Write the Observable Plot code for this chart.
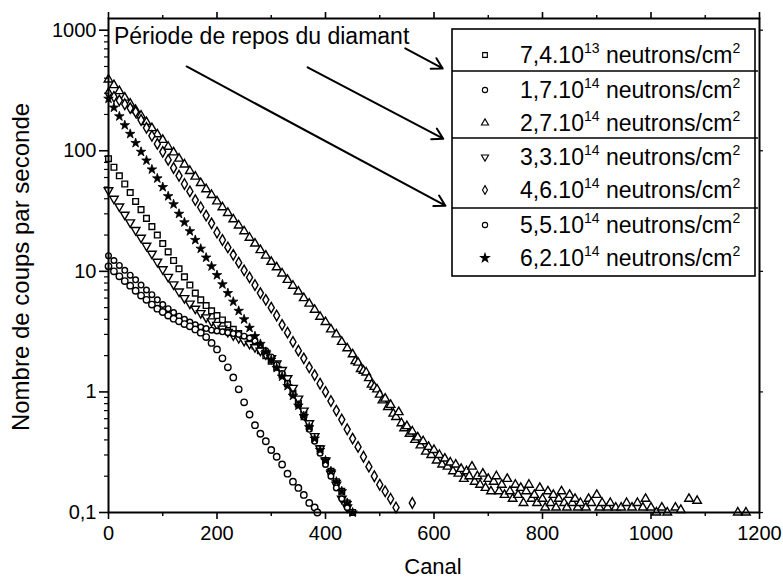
<!DOCTYPE html>
<html><head><meta charset="utf-8">
<script src="https://cdn.jsdelivr.net/npm/d3@7"></script>
<script src="https://cdn.jsdelivr.net/npm/@observablehq/plot@0.6"></script>
<style>body{margin:0;background:#fff}#chart{width:783px;height:581px}</style>
</head><body><div id="chart"></div>
<script>
// Series labels (legend order)
const seriesLabels = [
  ["7,4.10","13"],["1,7.10","14"],["2,7.10","14"],["3,3.10","14"],
  ["4,6.10","14"],["5,5.10","14"],["6,2.10","14"]
];
// [canal, coups/s]
const sq74e13 = [[0,86],[10,73],[20,62],[30,53],[40,45],[50,38],[60,32.5],[70,27.5],[80,23.5],[90,20],[100,17],[110,14.5],[120,12.3],[130,10.5],[140,9.0],[150,7.7],[160,6.6],[170,5.8],[180,5.2],[190,4.7],[200,4.3],[210,3.95],[220,3.6],[230,3.3],[240,3.05],[250,2.8],[260,2.6],[270,2.4],[280,2.2],[290,2.0],[300,1.8],[310,1.6],[320,1.38],[330,1.17],[340,0.98],[350,0.8],[360,0.65],[370,0.52],[380,0.42],[390,0.34],[400,0.27],[410,0.22],[420,0.18],[430,0.15],[440,0.12],[450,0.1]];
const ci17e14 = [[0,11],[10,10],[20,9.1],[30,8.3],[40,7.6],[50,6.9],[60,6.3],[70,5.8],[80,5.3],[90,4.9],[100,4.6],[110,4.3],[120,4.05],[130,3.85],[140,3.65],[150,3.5],[160,3.3],[170,3.1],[180,2.85],[190,2.55],[200,2.25],[210,1.9],[220,1.6],[230,1.32],[240,1.05],[250,0.82],[260,0.65],[270,0.53],[280,0.45],[290,0.39],[300,0.33],[310,0.29],[320,0.25],[330,0.21],[340,0.18],[350,0.16],[360,0.14],[370,0.12],[380,0.11],[385,0.1]];
const tr27e14 = [[0,390],[10,350],[20,312],[30,276],[40,246],[50,218],[60,196],[70,173],[80,154],[90,137],[100,123],[110,108],[120,97],[130,86],[140,77],[150,68],[160,61],[170,54],[180,48],[190,43],[200,38],[210,34],[220,30.5],[230,27],[240,24],[250,21.5],[260,19],[270,17],[280,15],[290,13.5],[300,12],[310,10.8],[320,9.6],[330,8.5],[340,7.6],[350,6.8],[360,6.0],[370,5.4],[380,4.8],[390,4.2],[400,3.8],[410,3.3],[420,3.0],[430,2.6],[440,2.3],[450,2.05],
  [455,1.8],[460,1.75],[465,1.55],[470,1.5],[475,1.45],[480,1.3],[485,1.15],[490,1.1],[495,1.05],[500,0.95],[505,0.85],[510,0.88],[515,0.75],[520,0.78],[525,0.66],[530,0.62],[535,0.68],[540,0.55],[545,0.5],[550,0.52],[555,0.45],[560,0.47],[565,0.4],[570,0.42],[575,0.36],[580,0.39],[585,0.32],[590,0.35],[595,0.3],[600,0.33],[605,0.27],[610,0.3],[615,0.25],[620,0.28],[625,0.24],[630,0.26],[635,0.22],[640,0.25],[645,0.21],[650,0.23],[655,0.19],[660,0.22],[665,0.2],[670,0.24],[675,0.18],[680,0.2],[685,0.17],[690,0.21],[695,0.16],[700,0.19],[705,0.15],[710,0.18],[715,0.2],[720,0.15],[725,0.17],[730,0.14],[735,0.19],[740,0.15],[745,0.13],[750,0.17],[755,0.14],[760,0.16],[765,0.12],[770,0.15],[775,0.17],[780,0.13],[785,0.14],[790,0.12],[795,0.16],[800,0.13],[805,0.11],[810,0.15],[815,0.12],[820,0.14],[825,0.11],[830,0.13],[835,0.15],[840,0.12],[845,0.11],[850,0.14],[855,0.12],[860,0.13],[865,0.11],[870,0.12],[880,0.11],[885,0.13],[890,0.12],[900,0.14],[905,0.11],[910,0.12],[920,0.11],[925,0.12],[935,0.11],[945,0.11],[955,0.12],[965,0.11],[975,0.12],[985,0.11],[990,0.13],[1000,0.11],[1010,0.1],[1020,0.11],[1030,0.1],[1045,0.11],[1055,0.105],[1070,0.13],[1085,0.125],[1160,0.1],[1175,0.1]];
const td33e14 = [[0,47],[10,40],[20,34.5],[30,29.5],[40,25.5],[50,22],[60,19],[70,16.3],[80,14],[90,12],[100,10.4],[110,9.0],[120,7.8],[130,6.8],[140,6.0],[150,5.4],[160,4.9],[170,4.5],[180,4.15],[190,3.85],[200,3.6],[210,3.35],[220,3.15],[230,2.95],[240,2.8],[250,2.65],[260,2.5],[270,2.35],[280,2.2],[290,2.05],[300,1.9],[310,1.72],[320,1.52],[330,1.3],[340,1.08],[350,0.88],[360,0.7],[370,0.55],[380,0.43],[390,0.34],[400,0.27],[410,0.21],[420,0.17],[430,0.13],[440,0.11]];
const di46e14 = [[0,300],[10,280],[20,262],[30,243],[40,226],[50,210],[60,180],[70,155],[80,133],[90,114],[100,98],[110,84],[120,72],[130,62],[140,53],[150,46],[160,39],[170,34],[180,29],[190,25],[200,21],[210,18.2],[220,15.8],[230,13.7],[240,11.8],[250,10.2],[260,8.9],[270,7.7],[280,6.6],[290,5.8],[300,5.0],[310,4.3],[320,3.6],[330,3.1],[340,2.6],[350,2.2],[360,1.9],[370,1.6],[380,1.38],[390,1.17],[400,1.0],[410,0.84],[420,0.7],[430,0.59],[440,0.49],[450,0.41],[460,0.35],[470,0.29],[480,0.24],[490,0.2],[500,0.17],[510,0.15],[520,0.13],[530,0.11],[560,0.12]];
const sc55e14 = [[0,13.5],[10,12.3],[20,11.2],[30,10.2],[40,9.3],[50,8.5],[60,7.7],[70,7.0],[80,6.4],[90,5.8],[100,5.3],[110,4.9],[120,4.55],[130,4.25],[140,4.0],[150,3.8],[160,3.6],[170,3.45],[180,3.35],[190,3.25],[200,3.2],[210,3.15],[220,3.1],[230,3.05],[240,3.0],[250,2.9],[260,2.8],[270,2.65],[280,2.45],[290,2.2],[300,1.95],[310,1.68],[320,1.42],[330,1.18],[340,0.96],[350,0.78],[360,0.62],[370,0.49],[380,0.39],[390,0.31],[400,0.25],[410,0.2],[420,0.16],[430,0.13],[440,0.11]];
const st62e14 = [[0,270],[10,228],[20,193],[30,163],[40,138],[50,116],[60,98],[70,83],[80,70],[90,59],[100,50],[110,42],[120,36],[130,30],[140,25.5],[150,21.5],[160,18.2],[170,15.4],[180,13],[190,11],[200,9.3],[210,7.8],[220,6.6],[230,5.6],[240,4.7],[250,4.0],[260,3.4],[270,2.9],[280,2.5],[290,2.15],[300,1.85],[310,1.58],[320,1.34],[330,1.12],[340,0.93],[350,0.77],[360,0.63],[370,0.51],[380,0.41],[390,0.33],[400,0.27],[410,0.22],[420,0.18],[430,0.15],[440,0.12],[450,0.1]];

const xTicks = [0,200,400,600,800,1000,1200];
const xMinor = [100,300,500,700,900,1100];
const yTicks = [0.1,1,10,100,1000];
const yTickLabels = ["0,1","1","10","100","1000"];
const yMinor = [];
for (const dec of [0.1,1,10,100,1000]) for (let k=2;k<=9;k++) if (dec*k<1250) yMinor.push(+(dec*k).toPrecision(3));

const annotation = "Période de repos du diamant";
const arrows = [
  {x1:547,y1:708,x2:616,y2:482},
  {x1:367,y1:492,x2:617,y2:126},
  {x1:144,y1:500,x2:621,y2:35}
];

const FONT = "'Liberation Sans', Arial, Helvetica, sans-serif";
const dotOpts = (data, symbol, extra={}) => Plot.dot(data, {x:d=>d[0], y:d=>d[1], symbol, r:3.2, stroke:"black", fill:"white", strokeWidth:1.4, ...extra});

const plot = Plot.plot({
  width:783, height:581,
  marginLeft:108, marginRight:24, marginTop:18, marginBottom:69,
  style:{fontFamily:FONT, fontSize:"20px", color:"black", background:"white"},
  x:{domain:[0,1200]},
  y:{type:"log", domain:[0.1,1250]},
  marks:[
    dotOpts(tr27e14, "triangle"),
    dotOpts(di46e14, "diamond"),
    dotOpts(sq74e13, "square"),
    dotOpts(td33e14, "triangle", {rotate:180}),
    dotOpts(sc55e14, "circle", {r:2.8}),
    dotOpts(ci17e14, "circle"),
    dotOpts(st62e14, "star", {fill:"black", r:3, strokeWidth:0.8}),
    Plot.frame({stroke:"black", strokeWidth:2}),
    Plot.axisX({ticks:xTicks, tickSize:7, strokeWidth:1.6, tickPadding:6, tickFormat:d=>String(d), label:null, fontSize:20}),
    Plot.axisX({ticks:xMinor, tickSize:4, strokeWidth:1.4, tickFormat:()=>"", label:null}),
    Plot.axisX({anchor:"top", ticks:xTicks, tickSize:7, strokeWidth:1.6, tickFormat:()=>"", label:null}),
    Plot.axisX({anchor:"top", ticks:xMinor, tickSize:4, strokeWidth:1.4, tickFormat:()=>"", label:null}),
    Plot.axisY({ticks:yTicks, tickSize:9, strokeWidth:1.6, tickPadding:3, tickFormat:d=>yTickLabels[yTicks.indexOf(d)], label:null, fontSize:20}),
    Plot.axisY({ticks:yMinor, tickSize:4, strokeWidth:1.2, tickFormat:()=>"", label:null}),
    Plot.axisY({anchor:"right", ticks:yTicks, tickSize:3, strokeWidth:1.2, tickFormat:()=>"", label:null}),
    Plot.text([annotation], {x:10, y:880, text:d=>d, textAnchor:"start", fontSize:23}),
    Plot.arrow(arrows, {x1:"x1", y1:"y1", x2:"x2", y2:"y2", stroke:"black", strokeWidth:2, headLength:9})
  ]
});

const svg = d3.select(plot);
// axis titles
svg.append("text").attr("x", 433).attr("y", 574).attr("text-anchor","middle")
  .style("font-family",FONT).style("font-size","22px").attr("fill","black").text("Canal");
svg.append("text").attr("transform","translate(29,267) rotate(-90)").attr("text-anchor","middle")
  .style("font-family",FONT).style("font-size","24px").attr("fill","black").text("Nombre de coups par seconde");

// legend
const lg = svg.append("g").style("font-family",FONT).attr("text-anchor","start");
const box = {x:452, y:29, w:303, h:247};
lg.append("rect").attr("x",box.x).attr("y",box.y).attr("width",box.w).attr("height",box.h)
  .attr("fill","white").attr("stroke","black").attr("stroke-width",1.6);
for (const sy of [71,138,208]) lg.append("line").attr("x1",box.x).attr("x2",box.x+box.w+3).attr("y1",sy).attr("y2",sy).attr("stroke","black").attr("stroke-width",1.6);
const rowY = [55,90,123,157,190,225,258];
const legSym = [
  {s:d3.symbolSquare}, {s:d3.symbolCircle}, {s:d3.symbolTriangle}, {s:d3.symbolTriangle, rot:180},
  {s:d3.symbolDiamond}, {s:d3.symbolCircle}, {s:d3.symbolStar, fill:"black"}
];
seriesLabels.forEach((lab,i)=>{
  const y = rowY[i];
  const sym = legSym[i];
  lg.append("path").attr("d", d3.symbol(sym.s, 22)())
    .attr("transform",`translate(485,${y})${sym.rot?" rotate(180)":""}`)
    .attr("fill", sym.fill||"white").attr("stroke","black").attr("stroke-width",1.1);
  const t = lg.append("text").attr("x",520).attr("y",y+8).attr("text-anchor","start").style("font-size","23px").attr("fill","black");
  t.append("tspan").text(lab[0]);
  t.append("tspan").attr("dy",-10).style("font-size","14px").text(lab[1]);
  t.append("tspan").attr("dy",10).text(" neutrons/cm");
  t.append("tspan").attr("dy",-10).style("font-size","14px").text("2");
});

document.getElementById("chart").appendChild(plot);
</script>
</body></html>
